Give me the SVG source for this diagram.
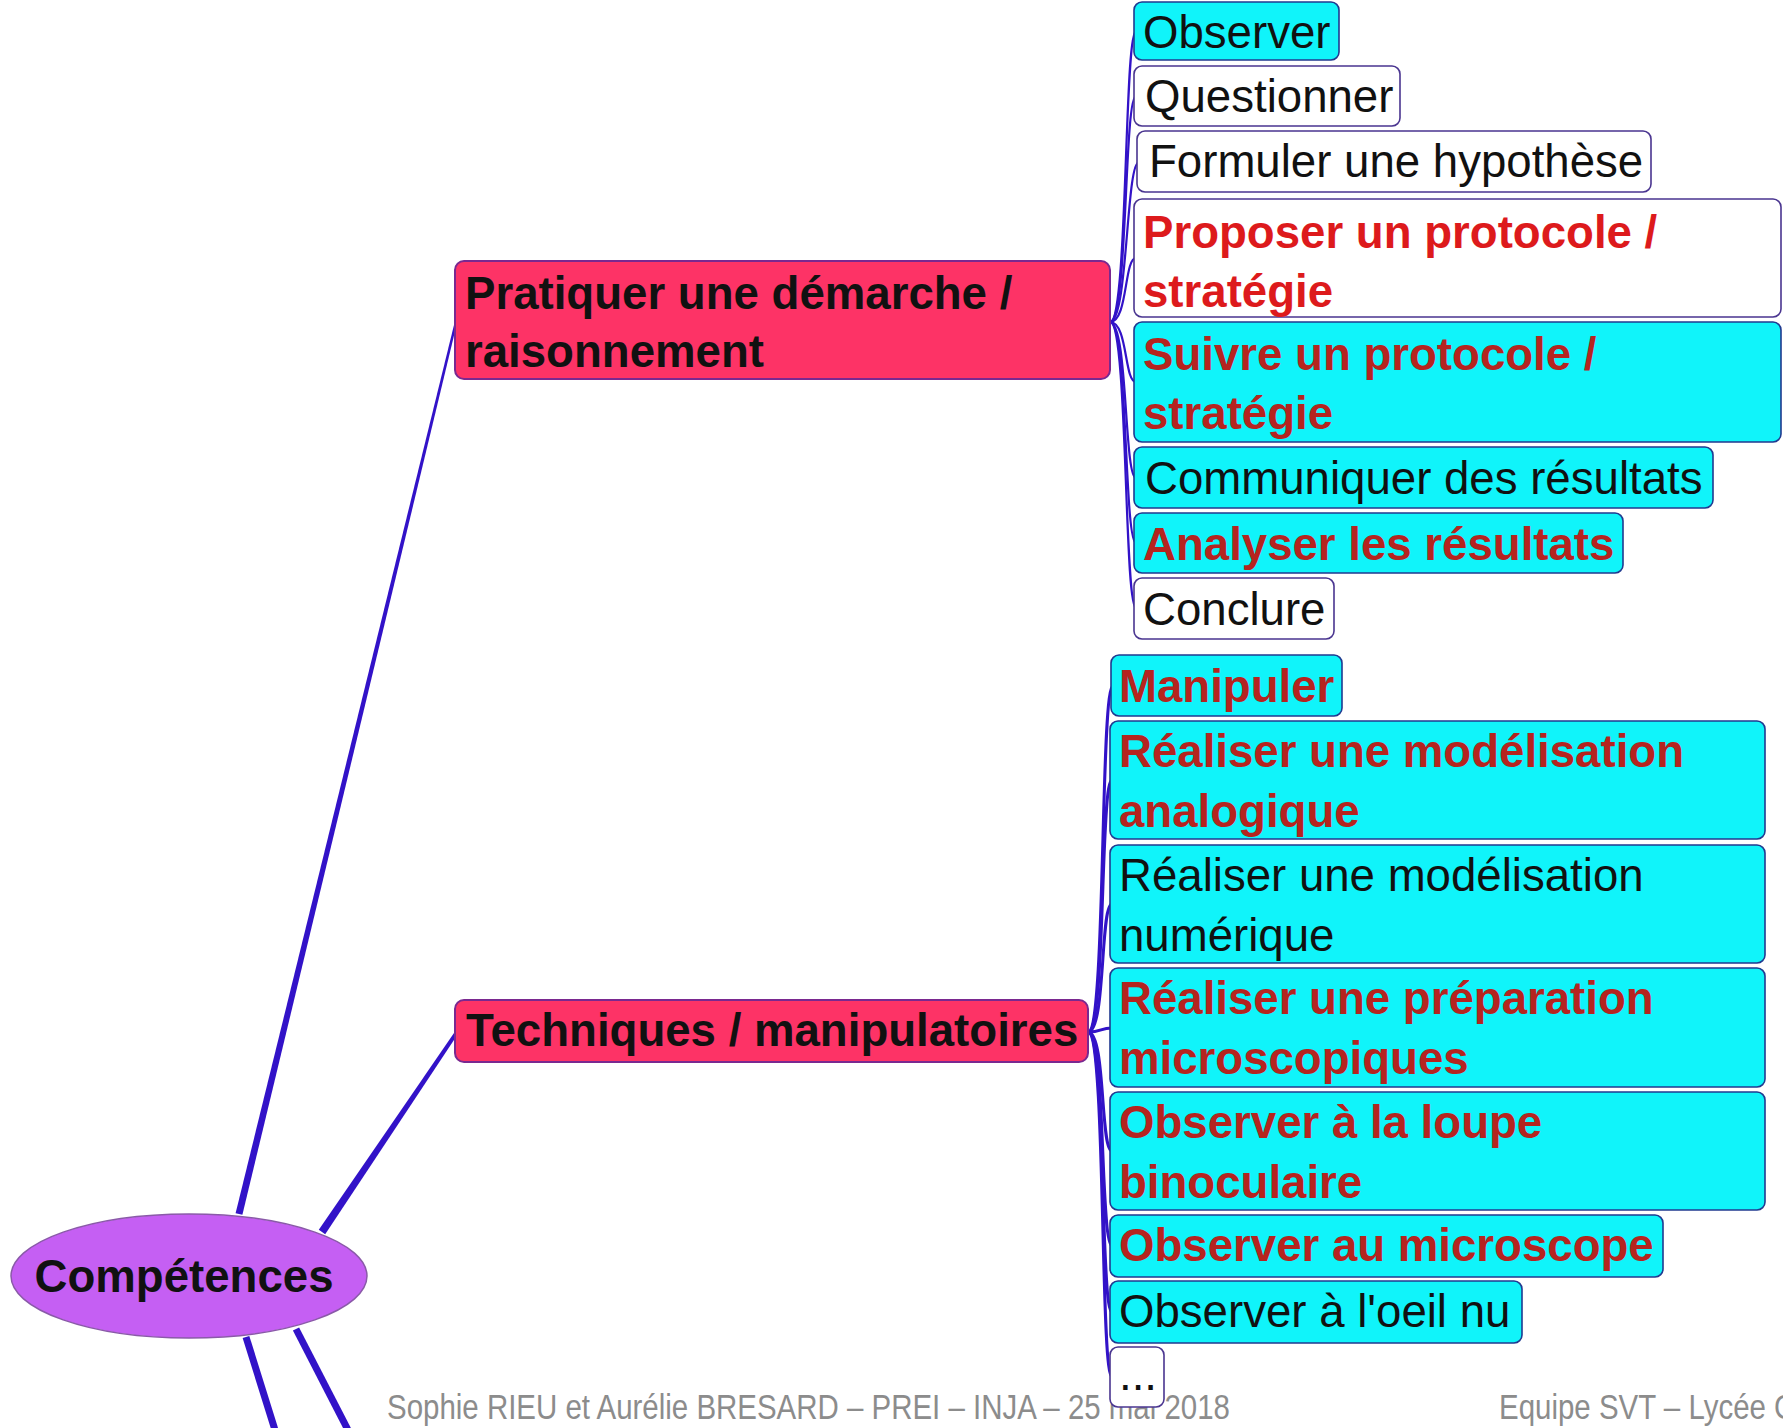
<svg xmlns="http://www.w3.org/2000/svg" width="1783" height="1428" viewBox="0 0 1783 1428">
<style>
  text { font-family: "Liberation Sans", Arial, sans-serif; font-size: 45.6px; }
  .b { font-weight: bold; }
  .k { fill: #111; }
  .r { fill: #dd1a1c; }
  .rc { fill: #b5241f; }
  .cy { fill: #10f4fa; stroke: #203a90; stroke-width: 1.6; }
  .wh { fill: #ffffff; stroke: #4a3590; stroke-width: 1.6; }
  .pk { fill: #fd3366; stroke: #7a2890; stroke-width: 2; }
  .c1 { fill: none; stroke: #3212c8; stroke-width: 2.2; }
  .c2 { fill: none; stroke: #3212c8; stroke-width: 3; }
  .main { fill: #3212c8; }
  .foot { fill: #8c8c8c; font-size: 35px; }
</style>
<rect width="1783" height="1428" fill="#ffffff"/>

<g id="footer">
  <text class="foot" x="387" y="1419" textLength="843" lengthAdjust="spacingAndGlyphs">Sophie RIEU et Aurélie BRESARD – PREI – INJA – 25 mai 2018</text>
  <text class="foot" x="1499" y="1419" textLength="298" lengthAdjust="spacingAndGlyphs">Equipe SVT – Lycée G</text>
</g>

<g id="connectors">
  <polygon class="main" points="242.4,1214.8 457.2,322.3 454.8,321.7 235.6,1213.2"/>
  <polygon class="main" points="325.2,1234.2 458.6,1033.1 455.4,1030.9 318.8,1229.8"/>
  <line x1="246" y1="1337" x2="275" y2="1430" stroke="#3212c8" stroke-width="7"/>
  <line x1="296" y1="1329" x2="348" y2="1430" stroke="#3212c8" stroke-width="7"/>
  <path class="c1" d="M1110,322 C1128,322 1124,31 1136,31"/>
  <path class="c1" d="M1110,322 C1128,322 1124,96 1136,96"/>
  <path class="c1" d="M1110,322 C1128,322 1126,162 1139,162"/>
  <path class="c1" d="M1110,322 C1128,322 1124,258 1136,258"/>
  <path class="c1" d="M1110,322 C1128,322 1124,382 1136,382"/>
  <path class="c1" d="M1110,322 C1128,322 1124,478 1136,478"/>
  <path class="c1" d="M1110,322 C1128,322 1124,543 1136,543"/>
  <path class="c1" d="M1110,322 C1128,322 1124,608 1136,608"/>
  <path class="c2" d="M1088,1032 C1106,1032 1100,686 1113,686"/>
  <path class="c2" d="M1088,1032 C1106,1032 1100,780 1112,780"/>
  <path class="c2" d="M1088,1032 C1106,1032 1100,904 1112,904"/>
  <path class="c2" d="M1088,1032 C1102,1032 1100,1028 1112,1028"/>
  <path class="c2" d="M1088,1032 C1106,1032 1100,1151 1112,1151"/>
  <path class="c2" d="M1088,1032 C1106,1032 1100,1246 1112,1246"/>
  <path class="c2" d="M1088,1032 C1106,1032 1100,1312 1112,1312"/>
  <path class="c2" d="M1088,1032 C1106,1032 1100,1377 1112,1377"/>
</g>

<g id="competences">
  <ellipse cx="189" cy="1276" rx="178" ry="62" fill="#c55ff3" stroke="#8a5aa8" stroke-width="1.5"/>
  <text class="b k" x="184" y="1292" text-anchor="middle">Compétences</text>
</g>

<g id="pratiquer">
  <rect class="pk" x="455" y="261" width="655" height="118" rx="9"/>
  <text class="b k" x="465" y="309">Pratiquer une démarche /</text>
  <text class="b k" x="465" y="367">raisonnement</text>
</g>

<g id="techniques">
  <rect class="pk" x="455" y="1000" width="633" height="62" rx="9"/>
  <text class="b k" x="466" y="1046">Techniques / manipulatoires</text>
</g>

<g id="observer">
  <rect class="cy" x="1134" y="2" width="205" height="58" rx="8"/>
  <text class="k" x="1143" y="48">Observer</text>
</g>
<g id="questionner">
  <rect class="wh" x="1134" y="66" width="266" height="60" rx="8"/>
  <text class="k" x="1145" y="112">Questionner</text>
</g>
<g id="formuler">
  <rect class="wh" x="1137" y="131" width="514" height="61" rx="8"/>
  <text class="k" x="1149" y="177">Formuler une hypothèse</text>
</g>
<g id="proposer">
  <rect class="wh" x="1134" y="199" width="647" height="118" rx="8"/>
  <text class="b r" x="1143" y="248">Proposer un protocole /</text>
  <text class="b r" x="1143" y="307">stratégie</text>
</g>
<g id="suivre">
  <rect class="cy" x="1134" y="322" width="647" height="120" rx="8"/>
  <text class="b rc" x="1143" y="370">Suivre un protocole /</text>
  <text class="b rc" x="1143" y="429">stratégie</text>
</g>
<g id="communiquer">
  <rect class="cy" x="1134" y="447" width="579" height="61" rx="8"/>
  <text class="k" x="1145" y="494">Communiquer des résultats</text>
</g>
<g id="analyser">
  <rect class="cy" x="1134" y="513" width="489" height="60" rx="8"/>
  <text class="b rc" x="1143" y="560">Analyser les résultats</text>
</g>
<g id="conclure">
  <rect class="wh" x="1134" y="578" width="200" height="61" rx="8"/>
  <text class="k" x="1143" y="625">Conclure</text>
</g>

<g id="manipuler">
  <rect class="cy" x="1111" y="655" width="231" height="61" rx="8"/>
  <text class="b rc" x="1119" y="702">Manipuler</text>
</g>
<g id="analogique">
  <rect class="cy" x="1110" y="721" width="655" height="118" rx="8"/>
  <text class="b rc" x="1119" y="767">Réaliser une modélisation</text>
  <text class="b rc" x="1119" y="827">analogique</text>
</g>
<g id="numerique">
  <rect class="cy" x="1110" y="845" width="655" height="118" rx="8"/>
  <text class="k" x="1119" y="891">Réaliser une modélisation</text>
  <text class="k" x="1119" y="951">numérique</text>
</g>
<g id="preparation">
  <rect class="cy" x="1110" y="968" width="655" height="119" rx="8"/>
  <text class="b rc" x="1119" y="1014">Réaliser une préparation</text>
  <text class="b rc" x="1119" y="1074">microscopiques</text>
</g>
<g id="loupe">
  <rect class="cy" x="1110" y="1092" width="655" height="118" rx="8"/>
  <text class="b rc" x="1119" y="1138">Observer à la loupe</text>
  <text class="b rc" x="1119" y="1198">binoculaire</text>
</g>
<g id="microscope">
  <rect class="cy" x="1110" y="1215" width="553" height="62" rx="8"/>
  <text class="b rc" x="1119" y="1261">Observer au microscope</text>
</g>
<g id="oeilnu">
  <rect class="cy" x="1110" y="1281" width="412" height="62" rx="8"/>
  <text class="k" x="1119" y="1327">Observer à l'oeil nu</text>
</g>
<g id="etc">
  <rect class="wh" x="1110" y="1347" width="54" height="60" rx="8"/>
  <text class="k" x="1119" y="1390">...</text>
</g>
</svg>
